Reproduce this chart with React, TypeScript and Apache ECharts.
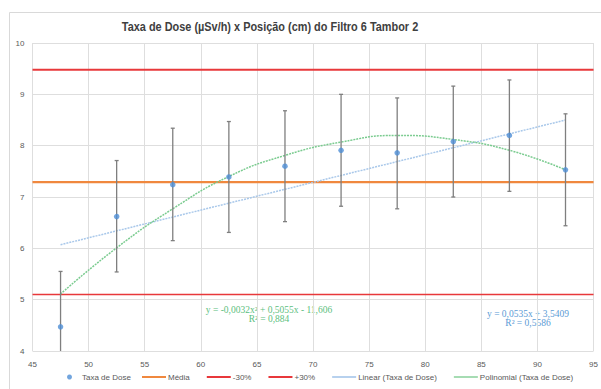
import React, { useEffect, useRef } from "react";
import * as echarts from "echarts";

const positions = [47.5, 52.5, 57.5, 62.5, 67.5, 72.5, 77.5, 82.5, 87.5, 92.5];
const doseRate = [4.47, 6.62, 7.24, 7.39, 7.6, 7.91, 7.86, 8.08, 8.2, 7.53];
const errorLow = [3.39, 5.54, 6.15, 6.31, 6.52, 6.82, 6.77, 7.0, 7.11, 6.44];
const errorHigh = [5.55, 7.71, 8.34, 8.47, 8.68, 9.0, 8.93, 9.16, 9.28, 8.62];
const mean = 7.29;
const minus30 = 5.1;
const plus30 = 9.48;
const linearX = [47.5, 92.5];
const linearY = [6.07, 8.5];
const polyY = [5.11, 6.01, 6.77, 7.4, 7.81, 8.07, 8.2, 8.12, 7.91, 7.53];
const xTicks = { min: 45, max: 95, interval: 5 };
const yTicks = { min: 4, max: 10, interval: 1 };
const title = "Taxa de Dose (µSv/h) x Posição (cm) do Filtro 6 Tambor 2";
const polyEq = "y = -0,0032x² + 0,5055x - 11,606\nR² = 0,884";
const linEq = "y = 0,0535x + 3,5409\nR² = 0,5586";

export default function App() {
  const ref = useRef<HTMLDivElement>(null);
  useEffect(() => {
    if (!ref.current) return;
    const chart = echarts.init(ref.current, null, { renderer: "svg" });
    const hLine = (name: string, v: number, color: string, width: number) => ({
      name,
      type: "line",
      data: [
        [xTicks.min, v],
        [xTicks.max, v],
      ],
      symbol: "none",
      lineStyle: { color, width },
      itemStyle: { color },
      z: 3,
    });
    chart.setOption({
      animation: false,
      textStyle: { fontFamily: "Liberation Sans" },
      grid: { left: 32.5, right: 3.5, top: 43, bottom: 38, containLabel: false },
      xAxis: {
        type: "value",
        min: xTicks.min,
        max: xTicks.max,
        interval: xTicks.interval,
        axisLine: { show: false },
        axisTick: { show: false },
        axisLabel: { fontSize: 8, color: "#595959", margin: 9 },
        splitLine: { show: true, lineStyle: { color: "#dedede", width: 1 } },
      },
      yAxis: {
        type: "value",
        min: yTicks.min,
        max: yTicks.max,
        interval: yTicks.interval,
        axisLine: { show: false },
        axisTick: { show: false },
        axisLabel: { fontSize: 8, color: "#595959", margin: 8 },
        splitLine: { show: true, lineStyle: { color: "#dedede", width: 1 } },
      },
      legend: [
        {
          left: 62,
          bottom: 3,
          itemWidth: 5,
          itemHeight: 5,
          icon: "circle",
          textStyle: { fontSize: 8, color: "#595959", padding: [0, 0, 0, 5] },
          data: ["Taxa de Dose"],
        },
        {
          left: 137,
          bottom: 3,
          itemGap: 17,
          itemWidth: 24,
          itemHeight: 2,
          icon: "rect",
          textStyle: { fontSize: 8, color: "#595959", padding: [0, 0, 0, -3] },
          data: ["Média", "-30%", "+30%", "Linear (Taxa de Dose)", "Polinomial (Taxa de Dose)"],
        },
      ],
      graphic: [
        {
          type: "rect",
          shape: { x: 9.5, y: 12.5, width: 620, height: 400 },
          style: { fill: "none", stroke: "#d9d9d9", lineWidth: 1 },
          silent: true,
        },
        {
          type: "text",
          x: 270,
          y: 27,
          scaleX: 0.84,
          style: {
            text: title,
            font: "bold 13px 'Liberation Sans'",
            fill: "#404040",
            align: "center",
            verticalAlign: "middle",
          },
        },
        {
          type: "text",
          x: 269,
          y: 306,
          style: {
            text: polyEq,
            font: "9.5px 'Liberation Serif'",
            fill: "#5cc07e",
            align: "center",
            lineHeight: 8.5,
          },
        },
        {
          type: "text",
          x: 528,
          y: 310,
          style: {
            text: linEq,
            font: "9.5px 'Liberation Serif'",
            fill: "#5b9bd5",
            align: "center",
            lineHeight: 8.5,
          },
        },
      ],
      series: [
        hLine("Média", mean, "#f0883e", 2.2),
        hLine("-30%", minus30, "#e8383b", 1.5),
        hLine("+30%", plus30, "#e8383b", 2),
        {
          name: "Linear (Taxa de Dose)",
          type: "line",
          data: linearX.map((x, i) => [x, linearY[i]]),
          symbol: "none",
          lineStyle: { color: "#a9c8ea", width: 1.5, type: [2, 1] },
          itemStyle: { color: "#b7d1ee" },
          z: 4,
        },
        {
          name: "Polinomial (Taxa de Dose)",
          type: "line",
          smooth: 0.5,
          data: positions.map((x, i) => [x, polyY[i]]),
          symbol: "none",
          lineStyle: { color: "#7acb8f", width: 1.5, type: [2, 1] },
          itemStyle: { color: "#a6dcb3" },
          z: 4,
        },
        {
          name: "errors",
          type: "custom",
          clip: true,
          data: positions.map((x, i) => [x, errorLow[i], errorHigh[i]]),
          renderItem: (params: any, api: any) => {
            const x = api.value(0);
            const lo = api.coord([x, api.value(1)]);
            const hi = api.coord([x, api.value(2)]);
            const style = { stroke: "#7f7f7f", lineWidth: 1.3 };
            const cap = 2;
            return {
              type: "group",
              children: [
                { type: "line", shape: { x1: lo[0], y1: lo[1], x2: hi[0], y2: hi[1] }, style },
                { type: "line", shape: { x1: hi[0] - cap, y1: hi[1], x2: hi[0] + cap, y2: hi[1] }, style },
                { type: "line", shape: { x1: lo[0] - cap, y1: lo[1], x2: lo[0] + cap, y2: lo[1] }, style },
              ],
            };
          },
          z: 5,
        },
        {
          name: "Taxa de Dose",
          type: "scatter",
          data: positions.map((x, i) => [x, doseRate[i]]),
          symbolSize: 5.5,
          itemStyle: { color: "#4f8fd6" },
          z: 6,
        },
      ],
    });
    return () => chart.dispose();
  }, []);
  return <div ref={ref} style={{ width: 601, height: 389, position: "absolute", left: 0, top: 0 }} />;
}
